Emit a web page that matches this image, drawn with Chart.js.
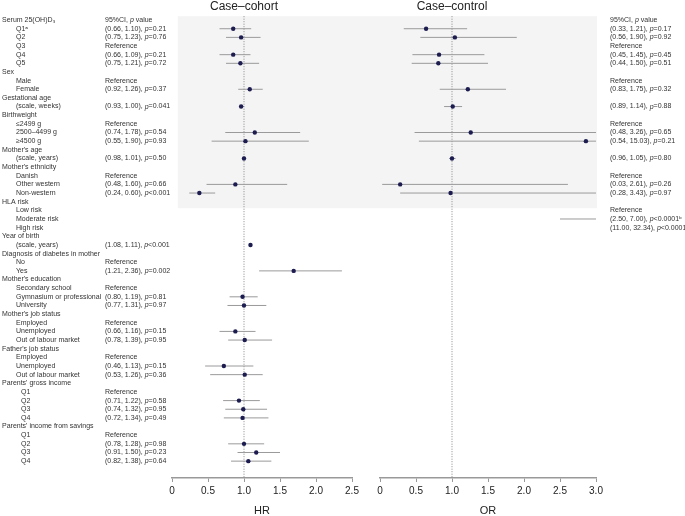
<!DOCTYPE html>
<html>
<head>
<meta charset="utf-8">
<script src="https://cdn.jsdelivr.net/npm/chart.js@4.4.1/dist/chart.umd.min.js"></script>
<style>
  body { margin: 0; background: #fff; width: 685px; height: 516px; overflow: hidden; position: relative; }
  #hr-chart { position: absolute; left: 0; top: 0; }
  #or-chart { position: absolute; left: 366px; top: 0; }
</style>
</head>
<body>
<canvas id="hr-chart" width="366" height="516"></canvas>
<canvas id="or-chart" width="319" height="516"></canvas>
<script>
// Row labels (one per line of the table) and their indent level
const rowLabels = ['Serum 25(OH)D₃', 'Q1ᵃ', 'Q2', 'Q3', 'Q4', 'Q5',
  'Sex', 'Male', 'Female',
  'Gestational age', '(scale, weeks)',
  'Birthweight', '≤2499 g', '2500–4499 g', '≥4500 g',
  "Mother's age", '(scale, years)',
  "Mother's ethnicity", 'Danish', 'Other western', 'Non-western',
  'HLA risk', 'Low risk', 'Moderate risk', 'High risk',
  'Year of birth', '(scale, years)',
  'Diagnosis of diabetes in mother', 'No', 'Yes',
  "Mother's education", 'Secondary school', 'Gymnasium or professional', 'University',
  "Mother's job status", 'Employed', 'Unemployed', 'Out of labour market',
  "Father's job status", 'Employed', 'Unemployed', 'Out of labour market',
  "Parents' gross income", 'Q1', 'Q2', 'Q3', 'Q4',
  "Parents' income from savings", 'Q1', 'Q2', 'Q3', 'Q4'];
const rowLevel = [0,1,1,1,1,1, 0,1,1, 0,1, 0,1,1,1, 0,1, 0,1,1,1, 0,1,1,1, 0,1, 0,1,1,
  0,1,1,1, 0,1,1,1, 0,1,1,1, 0,2,2,2,2, 0,2,2,2,2];

// Case-cohort (HR)
const hrText = ['95%CI, p value', '(0.66, 1.10), p=0.21', '(0.75, 1.23), p=0.76', 'Reference', '(0.66, 1.09), p=0.21', '(0.75, 1.21), p=0.72',
  '', 'Reference', '(0.92, 1.26), p=0.37',
  '', '(0.93, 1.00), p=0.041',
  '', 'Reference', '(0.74, 1.78), p=0.54', '(0.55, 1.90), p=0.93',
  '', '(0.98, 1.01), p=0.50',
  '', 'Reference', '(0.48, 1.60), p=0.66', '(0.24, 0.60), p<0.001',
  '', '', '', '',
  '', '(1.08, 1.11), p<0.001',
  '', 'Reference', '(1.21, 2.36), p=0.002',
  '', 'Reference', '(0.80, 1.19), p=0.81', '(0.77, 1.31), p=0.97',
  '', 'Reference', '(0.66, 1.16), p=0.15', '(0.78, 1.39), p=0.95',
  '', 'Reference', '(0.46, 1.13), p=0.15', '(0.53, 1.26), p=0.36',
  '', 'Reference', '(0.71, 1.22), p=0.58', '(0.74, 1.32), p=0.95', '(0.72, 1.34), p=0.49',
  '', 'Reference', '(0.78, 1.28), p=0.98', '(0.91, 1.50), p=0.23', '(0.82, 1.38), p=0.64'];
const hrEst = [null,0.85,0.96,null,0.85,0.95, null,null,1.08, null,0.96, null,null,1.15,1.02, null,1.00,
  null,null,0.88,0.38, null,null,null,null, null,1.09, null,null,1.69, null,null,0.98,1.00,
  null,null,0.88,1.01, null,null,0.72,1.01, null,null,0.93,0.99,0.98, null,null,1.00,1.17,1.06];
const hrLo = [null,0.66,0.75,null,0.66,0.75, null,null,0.92, null,0.93, null,null,0.74,0.55, null,0.98,
  null,null,0.48,0.24, null,null,null,null, null,1.08, null,null,1.21, null,null,0.80,0.77,
  null,null,0.66,0.78, null,null,0.46,0.53, null,null,0.71,0.74,0.72, null,null,0.78,0.91,0.82];
const hrHi = [null,1.10,1.23,null,1.09,1.21, null,null,1.26, null,1.00, null,null,1.78,1.90, null,1.01,
  null,null,1.60,0.60, null,null,null,null, null,1.11, null,null,2.36, null,null,1.19,1.31,
  null,null,1.16,1.39, null,null,1.13,1.26, null,null,1.22,1.32,1.34, null,null,1.28,1.50,1.38];

// Case-control (OR), only the first 25 rows
const orText = ['95%CI, p value', '(0.33, 1.21), p=0.17', '(0.56, 1.90), p=0.92', 'Reference', '(0.45, 1.45), p=0.45', '(0.44, 1.50), p=0.51',
  '', 'Reference', '(0.83, 1.75), p=0.32',
  '', '(0.89, 1.14), p=0.88',
  '', 'Reference', '(0.48, 3.26), p=0.65', '(0.54, 15.03), p=0.21',
  '', '(0.96, 1.05), p=0.80',
  '', 'Reference', '(0.03, 2.61), p=0.26', '(0.28, 3.43), p=0.97',
  '', 'Reference', '(2.50, 7.00), p<0.0001ᵇ', '(11.00, 32.34), p<0.0001ᵇ'];
const orEst = [null,0.64,1.04,null,0.82,0.81, null,null,1.22, null,1.01, null,null,1.26,2.86, null,1.00,
  null,null,0.28,0.98, null,null,4.18,18.86];
const orLo = [null,0.33,0.56,null,0.45,0.44, null,null,0.83, null,0.89, null,null,0.48,0.54, null,0.96,
  null,null,0.03,0.28, null,null,2.50,11.00];
const orHi = [null,1.21,1.90,null,1.45,1.50, null,null,1.75, null,1.14, null,null,3.26,15.03, null,1.05,
  null,null,2.61,3.43, null,null,7.00,32.34];

const hrTicks = [0, 0.5, 1.0, 1.5, 2.0, 2.5];
const orTicks = [0, 0.5, 1.0, 1.5, 2.0, 2.5, 3.0];

Chart.defaults.font.family = '"Liberation Sans", Arial, sans-serif';
Chart.defaults.color = '#222';

const FONT = '"Liberation Sans", Arial, sans-serif';
const TEXT_COLOR = '#333';

// turn lo/hi arrays into line segments separated by gaps
function ciSegments(lo, hi) {
  var pts = [];
  lo.forEach(function (l, i) {
    if (l == null) return;
    pts.push({ x: l, y: i }, { x: hi[i], y: i }, { x: null, y: null });
  });
  return pts;
}

function estPoints(est) {
  var pts = [];
  est.forEach(function (e, i) {
    if (e != null) pts.push({ x: e, y: i });
  });
  return pts;
}

// draws "..., p=..." with an italic p
function drawCI(ctx, s, x, y) {
  ctx.font = '7px ' + FONT;
  var idx = s.indexOf(', p');
  if (idx < 0) { ctx.fillText(s, x, y); return; }
  var head = s.slice(0, idx + 2);
  ctx.fillText(head, x, y);
  x += ctx.measureText(head).width;
  ctx.font = 'italic 7px ' + FONT;
  ctx.fillText('p', x, y);
  x += ctx.measureText('p').width;
  ctx.font = '7px ' + FONT;
  ctx.fillText(s.slice(idx + 3), x, y);
}

function makeChart(canvasId, cfg) {
  var ctx = document.getElementById(canvasId).getContext('2d');

  // background band + titles + text columns
  var textPlugin = {
    id: 'forestText',
    beforeDatasetsDraw: function (chart) {
      var c = chart.ctx, xs = chart.scales.x, ys = chart.scales.y;
      var top = ys.getPixelForValue(-0.45), bottom = ys.getPixelForValue(21.75);
      var left = cfg.shadeFrom(xs, chart), right = cfg.shadeTo(xs, chart);
      c.save();
      c.fillStyle = '#f4f4f4';
      c.fillRect(left, top, right - left, bottom - top);
      c.restore();
    },
    afterDraw: function (chart) {
      var c = chart.ctx, xs = chart.scales.x, ys = chart.scales.y;
      c.save();
      c.fillStyle = '#222';
      c.textAlign = 'center';
      c.textBaseline = 'alphabetic';
      c.font = '12px ' + FONT;
      c.fillText(cfg.title, xs.getPixelForValue(1), 9.5);

      c.textAlign = 'left';
      c.textBaseline = 'middle';
      c.fillStyle = TEXT_COLOR;
      if (cfg.labels) {
        var indent = [2, 16, 21];
        cfg.labels.forEach(function (lab, i) {
          c.font = '7px ' + FONT;
          c.fillText(lab, indent[rowLevel[i]], ys.getPixelForValue(i));
        });
      }
      cfg.text.forEach(function (t, i) {
        if (t) drawCI(c, t, cfg.textX, ys.getPixelForValue(i));
      });
      c.restore();
    }
  };

  return new Chart(ctx, {
    type: 'scatter',
    data: {
      datasets: [{
        label: 'estimate',
        data: estPoints(cfg.est),
        pointRadius: 2.2,
        pointBackgroundColor: '#1c1c50',
        pointBorderColor: '#1c1c50',
        pointBorderWidth: 0,
        order: 0
      }, {
        label: '95% CI',
        data: ciSegments(cfg.lo, cfg.hi),
        showLine: true,
        spanGaps: false,
        borderColor: '#9a9a9a',
        borderWidth: 1,
        pointRadius: 0,
        order: 1
      }, {
        label: 'null',
        data: [{ x: 1, y: -0.45 }, { x: 1, y: 52.95 }],
        showLine: true,
        borderColor: '#888',
        borderWidth: 1,
        borderDash: [1, 1.5],
        pointRadius: 0,
        order: 2
      }]
    },
    options: {
      responsive: false,
      animation: false,
      layout: { padding: cfg.padding },
      plugins: {
        legend: { display: false },
        tooltip: { enabled: false }
      },
      scales: {
        x: {
          type: 'linear',
          min: 0,
          max: cfg.ticks[cfg.ticks.length - 1],
          afterFit: function (s) { s.height = 38; },
          afterBuildTicks: function (s) {
            s.ticks = cfg.ticks.map(function (v) { return { value: v }; });
          },
          ticks: {
            color: '#222',
            font: { size: 10 },
            padding: 3,
            maxRotation: 0,
            autoSkip: false,
            callback: function (v) { return v === 0 ? '0' : v.toFixed(1); }
          },
          grid: { drawOnChartArea: false, drawTicks: true, tickLength: 4, color: '#999', lineWidth: 1 },
          border: { color: '#999', width: 1.5 },
          title: { display: true, text: cfg.axisTitle, color: '#222', font: { size: 11 }, padding: { top: 0, bottom: -2 } }
        },
        y: {
          type: 'linear',
          display: false,
          reverse: true,
          min: -1.05,
          max: 52.95
        }
      }
    },
    plugins: [textPlugin]
  });
}

var hrChart = makeChart('hr-chart', {
  title: 'Case–cohort',
  axisTitle: 'HR',
  ticks: hrTicks,
  est: hrEst, lo: hrLo, hi: hrHi,
  labels: rowLabels,
  text: hrText,
  textX: 105,
  padding: { left: 172, right: 14, top: 11, bottom: 0 },
  shadeFrom: function (xs) { return xs.getPixelForValue(0.08); },
  shadeTo: function (xs, chart) { return chart.width; }
});

var orChart = makeChart('or-chart', {
  title: 'Case–control',
  axisTitle: 'OR',
  ticks: orTicks,
  est: orEst, lo: orLo, hi: orHi,
  labels: null,
  text: orText,
  textX: 244,
  padding: { left: 14, right: 89, top: 11, bottom: 0 },
  shadeFrom: function () { return 0; },
  shadeTo: function (xs) { return xs.getPixelForValue(3) + 1; }
});
</script>
</body>
</html>
